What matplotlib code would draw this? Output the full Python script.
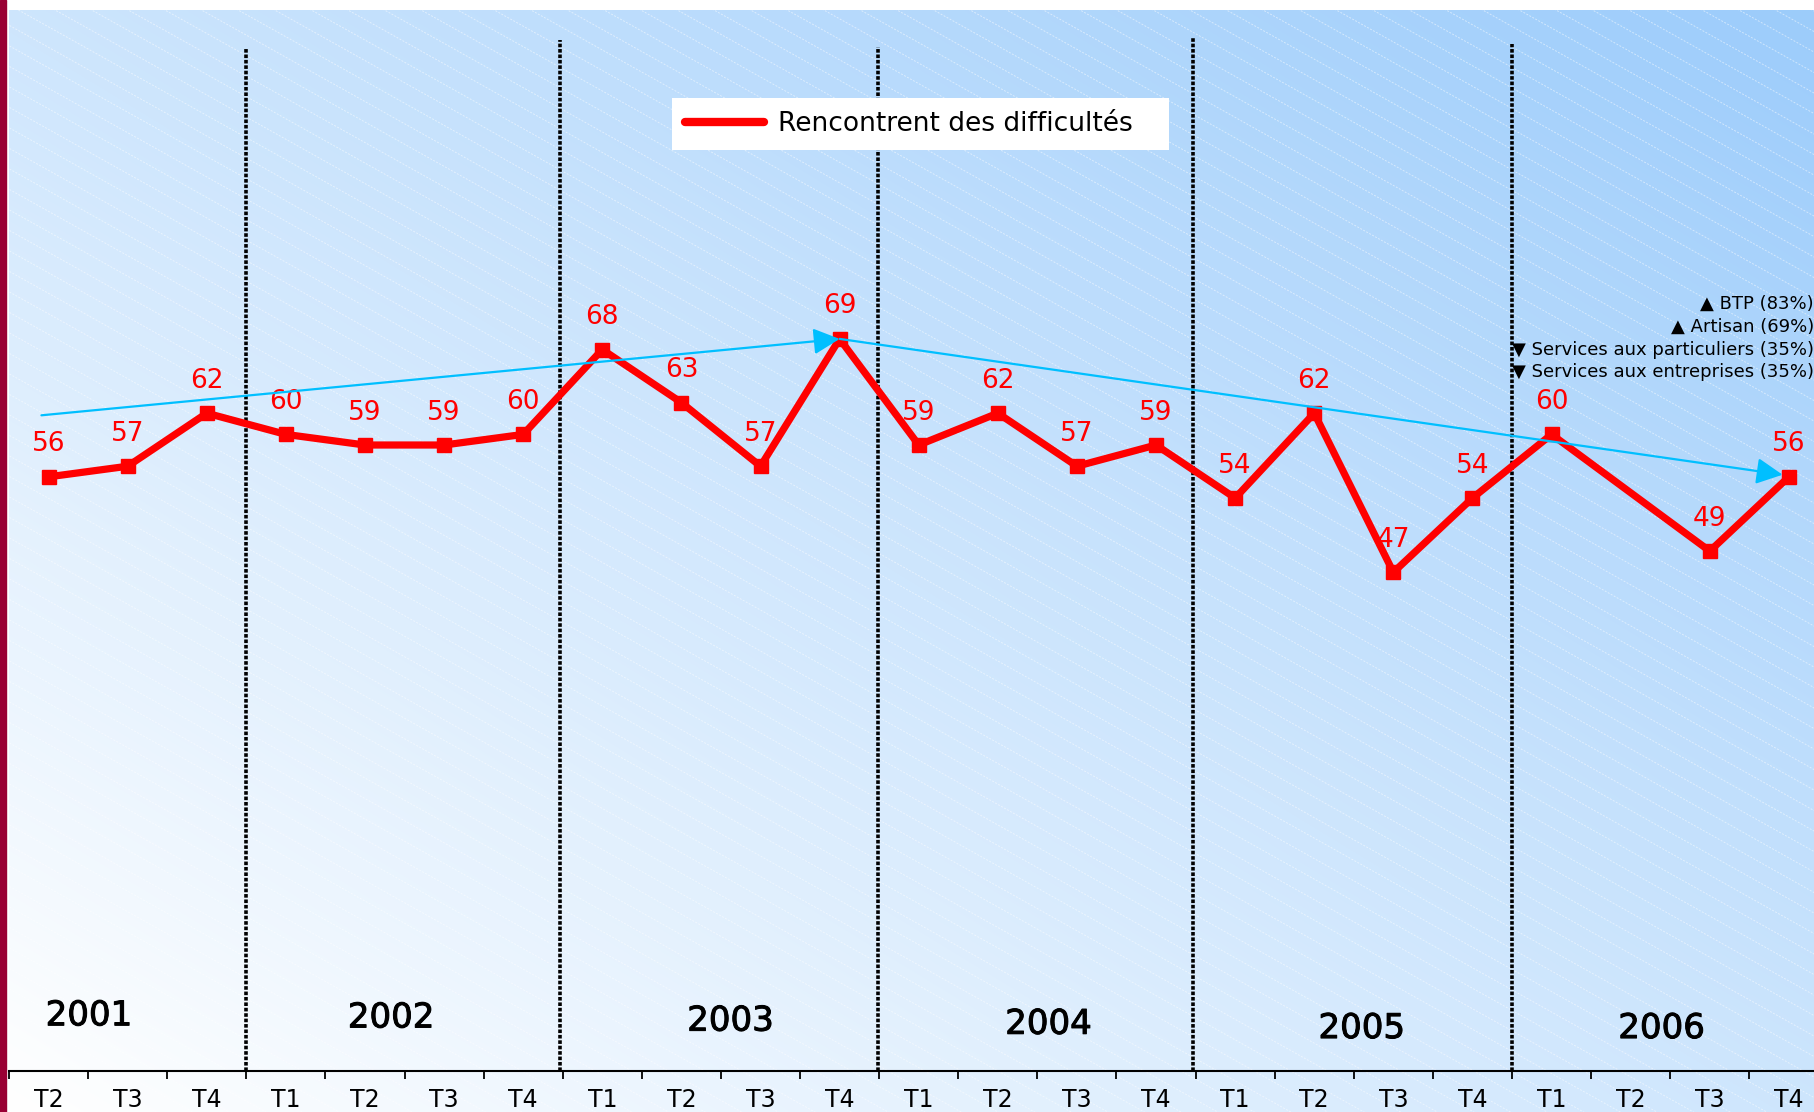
import numpy as np
import matplotlib
matplotlib.use('Agg')
import matplotlib.pyplot as plt
import matplotlib.patheffects as pe
from matplotlib.lines import Line2D
from matplotlib.patches import Rectangle

# ---------------- data ----------------
years = ['2001', '2002', '2003', '2004', '2005', '2006']
quarters_per_year = [3, 4, 4, 4, 4, 4]
quarter_labels = ['T2', 'T3', 'T4',
                  'T1', 'T2', 'T3', 'T4',
                  'T1', 'T2', 'T3', 'T4',
                  'T1', 'T2', 'T3', 'T4',
                  'T1', 'T2', 'T3', 'T4',
                  'T1', 'T2', 'T3', 'T4']
values = [56, 57, 62,
          60, 59, 59, 60,
          68, 63, 57, 69,
          59, 62, 57, 59,
          54, 62, 47, 54,
          60, None, 49, 56]
series_label = 'Rencontrent des difficultés'
trend_x = [-0.09, 10, 21.92]
trend_y = [61.8, 69, 56.2]
sector_notes = ['▲ BTP (83%)', '▲ Artisan (69%)',
                '▼ Services aux particuliers (35%)',
                '▼ Services aux entreprises (35%)']

# ---------------- layout ----------------
W, H = 1815, 1112
RED = '#ff0000'
CYAN = '#00bfff'
year_label_x = [0.51, 4.33, 8.62, 12.64, 16.6, 20.39]
year_label_y = [5.2, 5.0, 4.7, 4.4, 4.0, 4.0]
divider_x = [2.49, 6.47, 10.48, 14.47, 18.5]
divider_tops = [96.4, 97.2, 96.5, 97.4, 96.8]
note_y_px = [304, 327, 350, 372]

fig = plt.figure(figsize=(W / 100, H / 100), dpi=100)
fig.patch.set_facecolor('white')

# background gradient with faint diagonal lines
bx0 = 9.5
bg = fig.add_axes([bx0 / W, 0, 1 - bx0 / W, 1102 / H])
bw, bh = W - bx0, 1102
u = np.linspace(0, 1, 500)
v = np.linspace(0, 1, 400)
U, V = np.meshgrid(u, v)
t = (U + V) / 2
c_top = np.array([0.612, 0.800, 0.984])
c_bot = np.array([1.0, 1.0, 1.0])
img = c_bot * (1 - t[..., None]) + c_top * t[..., None]
bg.imshow(img, origin='lower', extent=[0, bw, 0, bh], aspect='auto',
          interpolation='bilinear')
slope = -0.56
for c in np.arange(0, bh + abs(slope) * bw + 20, 20.5):
    bg.plot([0, bw], [c, c + slope * bw], color='white', lw=0.7, alpha=0.5,
            ls=(0, (2, 1.5)))
bg.set_xlim(0, bw)
bg.set_ylim(0, bh)
bg.axis('off')

fig.add_artist(Rectangle((0, 0), 6 / W, 1, transform=fig.transFigure,
                         color='#990033', zorder=5))

# main axes
ax = fig.add_axes([9 / W, 41 / H, 1 - 9 / W, (1102 - 41) / H])
ax.patch.set_alpha(0)
ax.set_xlim(-0.5, 22.33)
ax.set_ylim(0, 100)

x = np.arange(len(values))
xs = [i for i, val in zip(x, values) if val is not None]
ys = [val for val in values if val is not None]

ax.plot(xs, ys, color=RED, lw=5.2, marker='s', ms=9.5, zorder=3,
        solid_joinstyle='miter')
for xi, yi in zip(xs, ys):
    ax.annotate(str(yi), (xi, yi), xytext=(0, 14), textcoords='offset points',
                ha='center', va='bottom', color=RED, fontsize=19, zorder=4)

# year dividers
for b, top in zip(divider_x, divider_tops):
    ax.plot([b, b], [0, top], color='black', lw=2.6, ls=(0, (1, 0.5)), zorder=2)

# trend arrows
for k in range(len(trend_x) - 1):
    ax.annotate('', xy=(trend_x[k + 1], trend_y[k + 1]),
                xytext=(trend_x[k], trend_y[k]),
                arrowprops=dict(arrowstyle='-|>,head_length=0.8,head_width=0.4',
                                color=CYAN, lw=1.6, mutation_scale=20,
                                shrinkA=0, shrinkB=0), zorder=5)

# year labels
for yr, xx, yy in zip(years, year_label_x, year_label_y):
    ax.text(xx, yy, yr, ha='center', va='center', fontsize=24.5,
            color='black',
            path_effects=[pe.withStroke(linewidth=0.7, foreground='black')])

# axis styling
for s in ['left', 'right', 'top']:
    ax.spines[s].set_visible(False)
ax.spines['bottom'].set_linewidth(1.5)
ax.set_yticks([])
ax.set_xticks(x)
ax.set_xticklabels(quarter_labels, fontsize=17)
ax.tick_params(axis='x', which='major', length=0, pad=12)
ax.set_xticks(np.arange(-0.5, 22.4, 1), minor=True)
ax.tick_params(axis='x', which='minor', length=6, width=1.3, direction='out')

# legend
handle = Line2D([0], [0], color=RED, lw=6, solid_capstyle='round')
lx0 = (672 - 9) / (W - 9)
lw_ = (1169 - 672) / (W - 9)
ltop = (1071 - 98) / 1061
lh = (149 - 98) / 1061
leg = ax.legend([handle], [series_label], loc='upper left', mode='expand',
                bbox_to_anchor=(lx0, ltop - lh, lw_, lh),
                frameon=True, fancybox=False, edgecolor='white',
                facecolor='white', framealpha=1, fontsize=19,
                handlelength=3.0, handletextpad=0.5, borderpad=0.5,
                borderaxespad=0)
leg.get_frame().set_linewidth(0)

# sector notes
for note, yp in zip(sector_notes, note_y_px):
    fig.text(1 - 1 / W, 1 - yp / H, note, ha='right', va='center',
             fontsize=13, color='black')

fig.savefig('out.png', dpi=100)
